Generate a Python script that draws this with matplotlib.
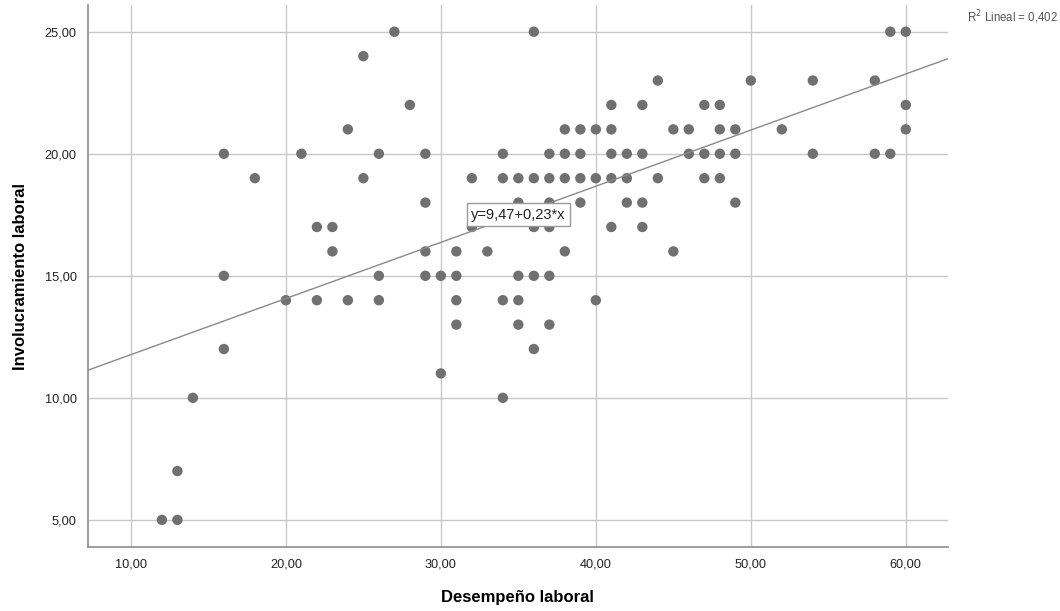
import numpy as np
import matplotlib
matplotlib.use('Agg')
import matplotlib.pyplot as plt
from matplotlib.ticker import FuncFormatter

plt.rcParams['font.family'] = ['Liberation Sans', 'DejaVu Sans']

# Desempeño laboral (x) vs Involucramiento laboral (y)
desempeno = [12, 13, 13, 14,
             16, 16, 16, 18, 20, 21, 22, 22, 23, 23, 24, 24, 25, 25,
             26, 26, 26, 27, 28, 29, 29, 29, 29, 30, 30,
             31, 31, 31, 31, 32, 32, 33, 34, 34, 34, 34,
             35, 35, 35, 35, 35, 36, 36, 36, 36, 36,
             37, 37, 37, 37, 37, 37, 38, 38, 38, 38, 39, 39, 39, 39,
             40, 40, 40, 41, 41, 41, 41, 41, 42, 42, 42,
             43, 43, 43, 43, 44, 44, 45, 45, 46, 46, 47, 47, 47,
             48, 48, 48, 48, 49, 49, 49, 50, 52, 54, 54, 58, 58,
             59, 59, 60, 60, 60]
involucramiento = [5, 5, 7, 10,
                   20, 15, 12, 19, 14, 20, 17, 14, 17, 16, 21, 14, 24, 19,
                   20, 15, 14, 25, 22, 20, 18, 16, 15, 15, 11,
                   16, 15, 14, 13, 19, 17, 16, 20, 19, 14, 10,
                   19, 18, 15, 14, 13, 25, 19, 17, 15, 12,
                   20, 19, 18, 17, 15, 13, 21, 20, 19, 16, 21, 20, 19, 18,
                   21, 19, 14, 22, 21, 20, 19, 17, 20, 19, 18,
                   22, 20, 18, 17, 23, 19, 21, 16, 21, 20, 22, 20, 19,
                   22, 21, 20, 19, 21, 20, 18, 23, 21, 23, 20, 23, 20,
                   25, 20, 25, 22, 21]

# linear fit as reported
intercept = 9.47
slope = 0.23
r2 = 0.402

x_ticks = [10, 20, 30, 40, 50, 60]
y_ticks = [5, 10, 15, 20, 25]

fig = plt.figure(figsize=(10.6, 6.11), dpi=100)
ax = fig.add_axes([0.083, 0.104, 0.811, 0.888])

ax.set_xlim(7.23, 62.7)
ax.set_ylim(3.87, 26.1)
ax.set_xticks(x_ticks)
ax.set_yticks(y_ticks)
comma = FuncFormatter(lambda v, p: f'{v:.2f}'.replace('.', ','))
ax.xaxis.set_major_formatter(comma)
ax.yaxis.set_major_formatter(comma)
ax.tick_params(length=0, labelsize=9.2, colors='#222222', pad=8)

ax.grid(True, color='#c8c8c8', linewidth=1)
ax.set_axisbelow(True)
for side in ['top', 'right']:
    ax.spines[side].set_visible(False)
for side in ['left', 'bottom']:
    ax.spines[side].set_color('#8c8c8c')
    ax.spines[side].set_linewidth(1.2)

ax.scatter(desempeno, involucramiento, s=56, color='#707070',
           edgecolors='none', zorder=3)

xl = np.array(ax.get_xlim())
ax.plot(xl, intercept + slope * xl, color='#8a8a8a', linewidth=1, zorder=4)

ax.text(35.0, 17.5, f'y={intercept:.2f}+{slope:.2f}*x'.replace('.', ','),
        fontsize=10.5, ha='center', va='center', color='#222222', zorder=5,
        bbox=dict(boxstyle='square,pad=0.3', facecolor='white',
                  edgecolor='#9a9a9a', linewidth=1))

fig.text(0.998, 0.972, f'R$^2$ Lineal = {r2:.3f}'.replace('.', ','),
         fontsize=8.3, ha='right', va='center', color='#555555')

ax.set_xlabel('Desempeño laboral', fontsize=12, fontweight='bold', labelpad=14)
ax.set_ylabel('Involucramiento laboral', fontsize=12, fontweight='bold', labelpad=12)

fig.savefig('out.png', dpi=100)
